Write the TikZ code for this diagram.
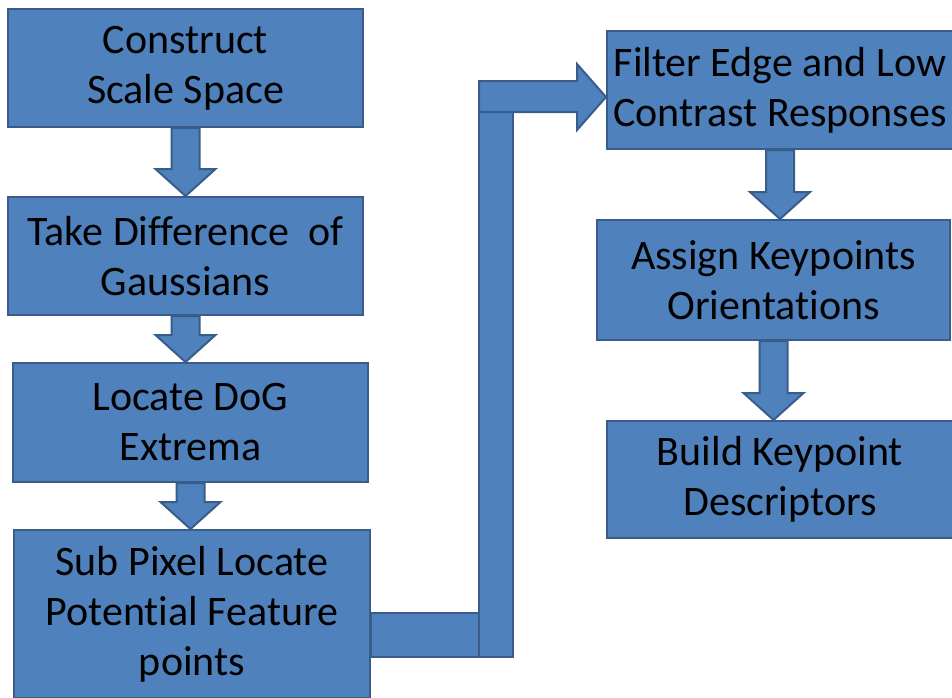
\documentclass[tikz,border=0pt]{standalone}
\usepackage{fontspec}
\setmainfont[Ligatures=NoCommon]{Carlito}
\usetikzlibrary{calc}

\definecolor{boxblue}{HTML}{4F81BD}
\definecolor{boxedge}{HTML}{385D8A}

\tikzset{
  stepbox/.style 2 args={draw=boxedge,fill=boxblue,line width=1.5pt,
    minimum width=#1*0.75pt,minimum height=#2*0.75pt,inner sep=0pt,
    align=center,font=\fontsize{31.5}{37.5}\selectfont},
  blk/.style={draw=boxedge,fill=boxblue,line width=1.5pt,line join=miter}
}

% thick block arrow from node #1 down to node #2
\newcommand{\downarr}[2]{%
  \path (#1.south) coordinate (s)
        ($(#1.south |- #2.north)+(0,-27)$) coordinate (h)
        (#1.south |- #2.north) coordinate (t);
  \draw[blk] ($(s)+(-14,0)$) -- ($(s)+(14,0)$) -- ($(h)+(14,0)$) -- ($(h)+(30,0)$)
    -- (t) -- ($(h)+(-30,0)$) -- ($(h)+(-14,0)$) -- cycle;
}

\begin{document}
\begin{tikzpicture}[x=0.75pt,y=-0.75pt]
  \useasboundingbox (0,0) rectangle (952,697);
  % left column
  \node[stepbox={355}{118}] (scale) at (185.5,68) {Construct\\Scale Space};
  \node[stepbox={355}{118}] (dog) at (185.5,256) {Take Difference~ of\\Gaussians};
  \node[stepbox={355}{119}] (extrema) at (190.5,422.5) {Locate DoG\\Extrema};
  \node[stepbox={356}{168}] (subpix) at (192,614) {Sub Pixel Locate\\Potential Feature\\points};
  % right column
  \node[stepbox={346}{118}] (filter) at (780,90) {Filter Edge and Low\\Contrast Responses};
  \node[stepbox={353}{120}] (orient) at (773.5,280) {Assign Keypoints\\Orientations};
  \node[stepbox={346}{117}] (descr) at (780,479.5) {Build Keypoint\\Descriptors};

  \downarr{scale}{dog}
  \downarr{dog}{extrema}
  \downarr{extrema}{subpix}
  \downarr{filter}{orient}
  \downarr{orient}{descr}

  % elbow from subpix over to filter
  \draw[blk] (subpix.east |- 0,613) rectangle (479,657); %lower bar
  \draw[blk] (479,112) rectangle (513,657); %riser
  \draw[blk] (479,81) -- (577,81) -- (577,64) -- (filter.west |- 0,97)
    -- (577,130) -- (577,112) -- (479,112) -- cycle; %head into filter
\end{tikzpicture}
\end{document}
